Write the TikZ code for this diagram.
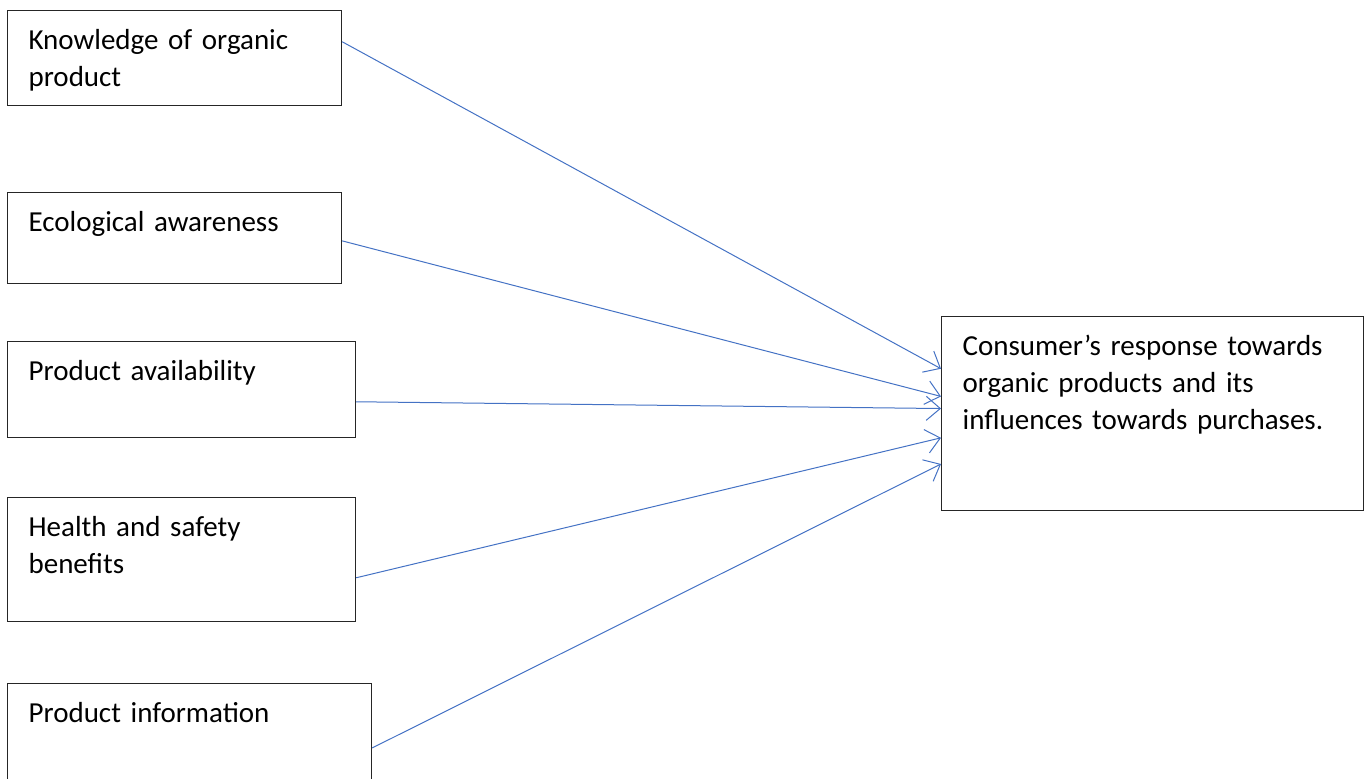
\documentclass[tikz,border=0pt]{standalone}
\usepackage{fontspec}
\setmainfont{Carlito}[WordSpace=0.9]
\usetikzlibrary{arrows.meta,calc}
\definecolor{linkblue}{RGB}{68,114,196}
\tikzset{
  factor/.style={draw=black!85, line width=0.6pt, rectangle, anchor=north west,
    align=left, inner xsep=10.5pt, inner ysep=0pt, text height=19.5pt,
    font=\fontsize{14.5}{18.5}\selectfont},
  link/.style={draw=linkblue, line width=0.5pt, -{Straight Barb[length=7pt,width=12pt]}}
}
\begin{document}
\begin{tikzpicture}[x=0.5pt, y=-0.5pt]
    \useasboundingbox (0, 0) rectangle (1368, 778);

    \node[factor, text width=146pt, text depth=28pt] (know) at (7, 10) {Knowledge of organic\\product};
    \node[factor, text width=146pt, text depth=26pt] (eco) at (7, 192) {Ecological awareness};
    \node[factor, text width=153pt, text depth=28.5pt] (avail) at (7, 341) {Product availability};
    \node[factor, text width=153pt, text depth=42.5pt] (health) at (7, 497) {Health and safety\\benefits};
    \node[factor, text width=161pt, text depth=34pt] (info) at (7, 683) {Product information};

    \node[factor, text width=190pt, text depth=77.5pt] (resp) at (941, 316) {Consumer’s response towards\\organic products and its\\influences towards purchases.};

    \draw[link] ($(know.north east)!0.33!(know.south east)$) -- ($(resp.north west)!0.27!(resp.south west)$);
    \draw[link] ($(eco.north east)!0.53!(eco.south east)$) -- ($(resp.north west)!0.412!(resp.south west)$);
    \draw[link] ($(avail.north east)!0.625!(avail.south east)$) -- ($(resp.north west)!0.474!(resp.south west)$);
    \draw[link] ($(health.north east)!0.645!(health.south east)$) -- ($(resp.north west)!0.624!(resp.south west)$);
    \draw[link] ($(info.north east)!0.6!(info.south east)$) -- ($(resp.north west)!0.758!(resp.south west)$);
\end{tikzpicture}
\end{document}
